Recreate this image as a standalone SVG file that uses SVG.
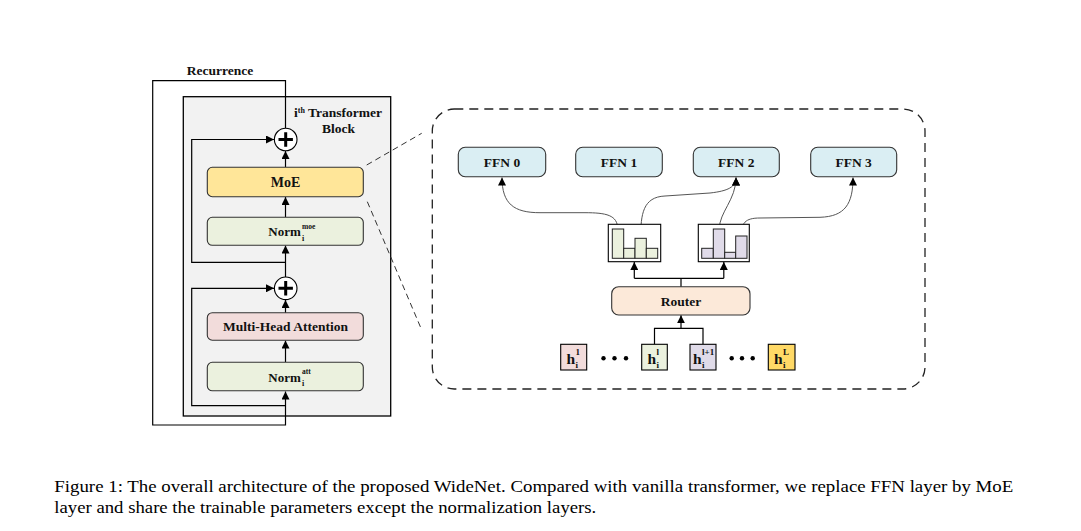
<svg xmlns="http://www.w3.org/2000/svg" width="1081" height="531" viewBox="0 0 1081 531">
<style>
.t{font-family:"Liberation Serif","Times New Roman",serif;font-weight:bold;fill:#111}
.box{stroke:#333;stroke-width:1.1}
.ln{fill:none;stroke:#000;stroke-width:1.2}
.cv{fill:none;stroke:#555;stroke-width:1}
.dash{fill:none;stroke:#333;stroke-width:1;stroke-dasharray:6,4}
.cap{font-family:"Liberation Serif","Times New Roman",serif;font-size:17.5px;fill:#000}
.bar{stroke:#222;stroke-width:1}
</style>
<defs>
<marker id="ah" markerUnits="userSpaceOnUse" markerWidth="9" markerHeight="8" refX="8" refY="4" orient="auto">
<path d="M0,0 L8,4 L0,8 z" fill="#000"/>
</marker>
</defs>
<rect width="1081" height="531" fill="#fff"/>

<g id="block">
<rect x="183.3" y="96.7" width="207.4" height="319.3" fill="#f2f2f2" stroke="#000" stroke-width="1.3"/>
<text class="t" x="294" y="117" font-size="13.5">i<tspan dy="-4.5" font-size="8">th</tspan><tspan dy="4.5"> Transformer</tspan></text>
<text class="t" x="338.5" y="133" font-size="13.5" text-anchor="middle">Block</text>
</g>
<text class="t" x="220" y="75" font-size="13.5" text-anchor="middle">Recurrence</text>

<g id="connectors">
<path class="ln" d="M285.5,128 V80.7 H152.7 V425 H285.5 V391.5" marker-end="url(#ah)"/>
<path class="ln" d="M285.5,362 V340.5" marker-end="url(#ah)"/>
<path class="ln" d="M285.5,313 V300" marker-end="url(#ah)"/>
<path class="ln" d="M285.5,277 V245.5" marker-end="url(#ah)"/>
<path class="ln" d="M285.5,217 V197" marker-end="url(#ah)"/>
<path class="ln" d="M285.5,167 V151" marker-end="url(#ah)"/>
<path class="ln" d="M285.5,262.3 H191.7 V139.5 H274" marker-end="url(#ah)"/>
<path class="ln" d="M285.5,405.7 H191.7 V288.3 H274" marker-end="url(#ah)"/>
<path class="dash" d="M366.7,165 L421.7,133.3"/>
<path class="dash" d="M367.3,201.7 L421,328.3"/>
<path class="cv" d="M617.7,229 C617.7,215 606,212.7 585,212.7 L540,212.7 C514,212.7 502,204 502,177.5" marker-end="url(#ah)"/>
<path class="cv" d="M640.7,238 C640.7,214 643,197 665,196 L710,193 C728,191 736,187 736,177.5" marker-end="url(#ah)"/>
<path class="cv" d="M719.3,229 C719.3,212 736,200 736,177.5" marker-end="url(#ah)"/>
<path class="cv" d="M741.3,236 C741.3,223 745,218 760,218 L820,217.3 C845,216.5 853,204 853,177.5" marker-end="url(#ah)"/>
<path class="ln" d="M681,287 V278.3 M634.3,278.3 H723.8"/>
<path class="ln" d="M634.3,278.3 V262" marker-end="url(#ah)"/>
<path class="ln" d="M723.8,278.3 V262" marker-end="url(#ah)"/>
<path class="ln" d="M654.5,344 V328.3 H703 V344"/>
<path class="ln" d="M681,328.3 V315.3" marker-end="url(#ah)"/>
</g>

<g id="plus1">
<circle cx="285.7" cy="139.5" r="11.3" fill="#fff" stroke="#000" stroke-width="1.1"/>
<path d="M278.5,139.5 H292.9 M285.7,132.3 V146.7" stroke="#000" stroke-width="3"/>
</g>
<g id="plus2">
<circle cx="285.7" cy="288.3" r="11.3" fill="#fff" stroke="#000" stroke-width="1.1"/>
<path d="M278.5,288.3 H292.9 M285.7,281.1 V295.5" stroke="#000" stroke-width="3"/>
</g>

<g id="moe">
<rect class="box" x="207.3" y="167.3" width="156" height="29.4" rx="5" fill="#ffe699"/>
<text class="t" x="285.5" y="186.5" font-size="14" text-anchor="middle">MoE</text>
</g>
<g id="norm-moe">
<rect class="box" x="207.3" y="217.3" width="156" height="28" rx="5" fill="#ebf1de"/>
<text class="t" x="268.3" y="236" font-size="13">Norm</text>
<text class="t" x="302" y="228.5" font-size="7.5">moe</text>
<text class="t" x="302" y="240.5" font-size="8">i</text>
</g>
<g id="mha">
<rect class="box" x="207.3" y="312.7" width="156" height="27.5" rx="5" fill="#f2dcdb"/>
<text class="t" x="285.5" y="331" font-size="13.5" text-anchor="middle">Multi-Head Attention</text>
</g>
<g id="norm-att">
<rect class="box" x="207.3" y="362.3" width="156" height="28.5" rx="5" fill="#ebf1de"/>
<text class="t" x="268.3" y="381.5" font-size="13">Norm</text>
<text class="t" x="302" y="374" font-size="7.5">att</text>
<text class="t" x="302" y="386" font-size="8">i</text>
</g>

<g id="moe-detail">
<rect x="432.3" y="109" width="492.7" height="280" rx="22" fill="none" stroke="#222" stroke-width="1.3" stroke-dasharray="9,6"/>
</g>

<g id="ffn0">
<rect class="box" x="458.3" y="147.3" width="87.4" height="29.4" rx="7" fill="#daeef3"/>
<text class="t" x="502" y="166.5" font-size="13.5" text-anchor="middle">FFN 0</text>
</g>
<g id="ffn1">
<rect class="box" x="575.7" y="147.3" width="86.6" height="29.4" rx="7" fill="#daeef3"/>
<text class="t" x="619" y="166.5" font-size="13.5" text-anchor="middle">FFN 1</text>
</g>
<g id="ffn2">
<rect class="box" x="693.3" y="147.3" width="86" height="29.4" rx="7" fill="#daeef3"/>
<text class="t" x="736.3" y="166.5" font-size="13.5" text-anchor="middle">FFN 2</text>
</g>
<g id="ffn3">
<rect class="box" x="810.7" y="147.3" width="86" height="29.4" rx="7" fill="#daeef3"/>
<text class="t" x="853.7" y="166.5" font-size="13.5" text-anchor="middle">FFN 3</text>
</g>

<g id="hist1">
<rect x="608.3" y="224.3" width="52.4" height="37.4" fill="#fff" stroke="#000" stroke-width="1.1"/>
<rect class="bar" x="612.3" y="229" width="11.4" height="29.3" fill="#ebf1de"/>
<rect class="bar" x="623.7" y="248.3" width="11.3" height="10" fill="#ebf1de"/>
<rect class="bar" x="635" y="238.3" width="11.3" height="20" fill="#ebf1de"/>
<rect class="bar" x="646.3" y="248.3" width="11.4" height="10" fill="#ebf1de"/>
</g>
<g id="hist2">
<rect x="698.3" y="224.3" width="51" height="37.4" fill="#fff" stroke="#000" stroke-width="1.1"/>
<rect class="bar" x="701.7" y="248.3" width="11.6" height="10" fill="#e0dbe9"/>
<rect class="bar" x="713.3" y="229" width="11.4" height="29.3" fill="#e0dbe9"/>
<rect class="bar" x="724.7" y="252.3" width="11" height="6" fill="#e0dbe9"/>
<rect class="bar" x="735.7" y="236" width="11.3" height="22.3" fill="#e0dbe9"/>
</g>

<g id="router">
<rect class="box" x="611.7" y="286.7" width="138.3" height="28.3" rx="7" fill="#fce9d9"/>
<text class="t" x="681" y="305.5" font-size="13.5" text-anchor="middle">Router</text>
</g>

<g id="h1">
<rect x="560.7" y="344.3" width="26" height="25.7" fill="#f2dcdb" stroke="#000" stroke-width="1.1"/>
<text class="t" x="566.5" y="364" font-size="15.5">h</text>
<text class="t" x="575.5" y="355" font-size="9">1</text>
<text class="t" x="575.5" y="367.5" font-size="9">i</text>
</g>
<g id="h2">
<rect x="641.7" y="344.3" width="25.6" height="25.7" fill="#ebf1de" stroke="#000" stroke-width="1.1"/>
<text class="t" x="647.5" y="364" font-size="15.5">h</text>
<text class="t" x="656.5" y="355" font-size="9">l</text>
<text class="t" x="656.5" y="367.5" font-size="9">i</text>
</g>
<g id="h3">
<rect x="690" y="344.3" width="26" height="25.7" fill="#e0dbe9" stroke="#000" stroke-width="1.1"/>
<text class="t" x="693" y="364" font-size="15.5">h</text>
<text class="t" x="702" y="355" font-size="9">l+1</text>
<text class="t" x="702" y="367.5" font-size="9">i</text>
</g>
<g id="h4">
<rect x="768.3" y="344.3" width="26.7" height="25.7" fill="#ffd966" stroke="#000" stroke-width="1.1"/>
<text class="t" x="774" y="364" font-size="15.5">h</text>
<text class="t" x="783" y="355" font-size="9">L</text>
<text class="t" x="783" y="367.5" font-size="9">i</text>
</g>
<g id="dots1" fill="#000">
<circle cx="603.5" cy="358.3" r="2.2"/><circle cx="614.5" cy="358.3" r="2.2"/><circle cx="626" cy="358.3" r="2.2"/>
</g>
<g id="dots2" fill="#000">
<circle cx="731.7" cy="358.3" r="2.2"/><circle cx="742" cy="358.3" r="2.2"/><circle cx="752.7" cy="358.3" r="2.2"/>
</g>

<g id="caption">
<text class="cap" x="54.3" y="491.7" textLength="959" lengthAdjust="spacingAndGlyphs">Figure 1: The overall architecture of the proposed WideNet. Compared with vanilla transformer, we replace FFN layer by MoE</text>
<text class="cap" x="54.3" y="512.7" textLength="542" lengthAdjust="spacingAndGlyphs">layer and share the trainable parameters except the normalization layers.</text>
</g>
</svg>
